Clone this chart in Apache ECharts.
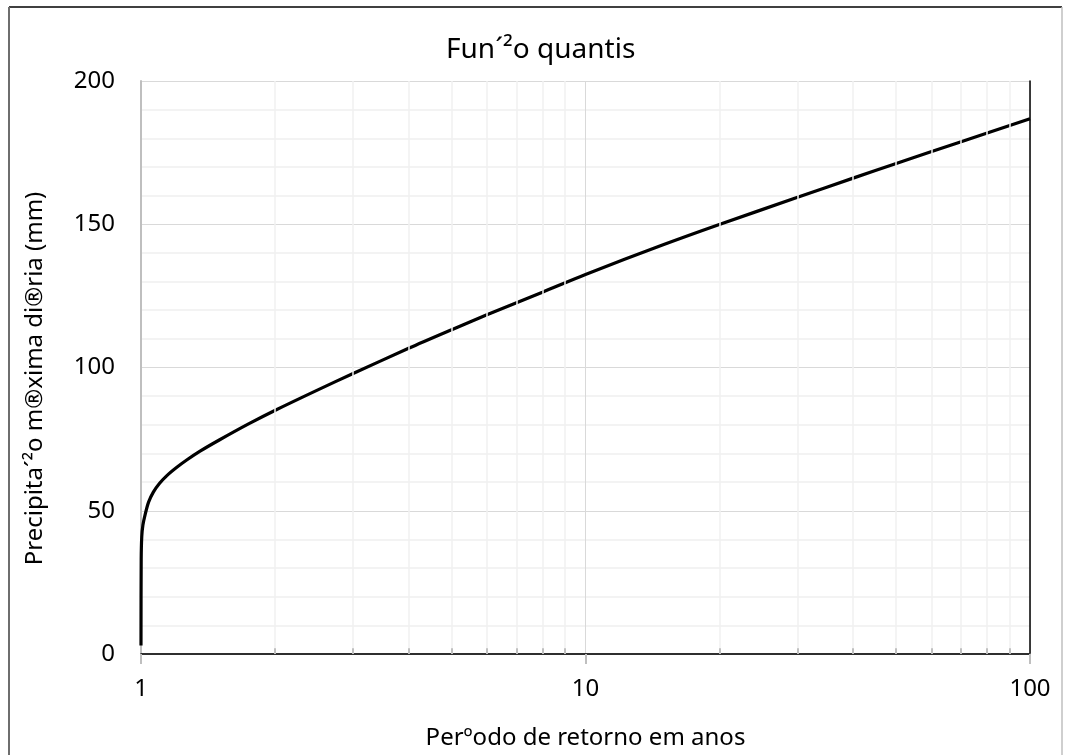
<!DOCTYPE html>
<html>
<head>
<meta charset="utf-8">
<script src="https://cdn.jsdelivr.net/npm/echarts@6/dist/echarts.min.js"></script>
<style>
  html, body { margin: 0; padding: 0; background: #ffffff; }
  #chart { width: 1066px; height: 755px; }
</style>
</head>
<body>
<div id="chart"></div>
<script>
// Return period (years) and the matching daily maximum rainfall quantile (mm)
const periods  = [1.0000001, 1.001, 1.004, 1.01, 1.021, 1.04, 1.066, 1.1, 1.142, 1.2, 1.267, 1.358,
                  1.5, 1.75, 2, 2.5, 3, 4, 5, 6, 8, 10, 15, 20, 30, 40, 50, 70, 100];
const rainfall = [3, 33, 41, 45, 48.5, 53, 56.5, 59.5, 62.2, 65, 67.7, 70.8,
                  74.7, 80.4, 85, 92.2, 97.9, 106.7, 113.2, 118.4, 126.3, 132.5, 142.9, 149.9,
                  159.4, 166.1, 171.2, 178.8, 186.8];

// Logarithmic sub-divisions of the return-period axis
const xMinorTicks = [2, 3, 4, 5, 6, 7, 8, 9, 20, 30, 40, 50, 60, 70, 80, 90];

const chartTitle = 'Fun´²o quantis';
const xName = 'Perºodo de retorno em anos';
const yName = 'Precipita´²o m®xima di®ria (mm)';

const FONT = 'Noto Sans';
const chart = echarts.init(document.getElementById('chart'), null, { renderer: 'canvas' });

const curve = periods.map((t, i) => [t, rainfall[i]]);

chart.setOption({
  backgroundColor: '#ffffff',
  animation: false,
  title: {
    text: chartTitle,
    left: 441,
    top: 31,
    textStyle: { fontFamily: FONT, fontSize: 28, fontWeight: 'normal', color: '#000000' }
  },
  grid: { left: 141, right: 36, top: 81, bottom: 97 },
  xAxis: [{
    type: 'log',
    logBase: 10,
    min: 1,
    max: 100,
    name: xName,
    nameLocation: 'middle',
    nameGap: 72,
    nameTextStyle: { fontFamily: FONT, fontSize: 24, color: '#000000' },
    axisLine: { show: true, lineStyle: { color: '#bfbfbf', width: 2 } },
    axisTick: { show: true, inside: false, length: 10, lineStyle: { color: '#bfbfbf', width: 2 } },
    axisLabel: { fontFamily: FONT, fontSize: 24, color: '#000000', margin: 23 },
    splitLine: { show: true, lineStyle: { color: '#d9d9d9', width: 1 } }
  }, {
    type: 'log',
    logBase: 10,
    min: 1,
    max: 100,
    position: 'top',
    axisLine: { show: true, lineStyle: { color: '#000000', width: 1.5 } },
    axisTick: { show: false },
    axisLabel: { show: false },
    splitLine: { show: false }
  }],
  yAxis: [{
    type: 'value',
    min: 0,
    max: 200,
    interval: 50,
    name: yName,
    nameLocation: 'middle',
    nameGap: 94,
    nameTextStyle: { fontFamily: FONT, fontSize: 24, color: '#000000', padding: [0, 22, 0, 0] },
    axisLine: { show: true, lineStyle: { color: '#bfbfbf', width: 2 } },
    axisTick: { show: false },
    axisLabel: { fontFamily: FONT, fontSize: 24, color: '#000000', margin: 26 },
    splitLine: { show: true, lineStyle: { color: '#d9d9d9', width: 1 } },
    minorTick: { show: false, splitNumber: 5 },
    minorSplitLine: { show: true, lineStyle: { color: '#f0f0f0', width: 1.5 } }
  }, {
    type: 'value',
    min: 0,
    max: 200,
    interval: 50,
    position: 'right',
    axisLine: { show: true, lineStyle: { color: '#000000', width: 1.5 } },
    axisTick: { show: false },
    axisLabel: { show: false },
    splitLine: { show: false }
  }],
  graphic: [
    // outer chart frame
    { type: 'line', shape: { x1: 9, y1: 7, x2: 1062, y2: 7 }, style: { stroke: '#000000', lineWidth: 1.5 }, silent: true },
    { type: 'line', shape: { x1: 9, y1: 7, x2: 9, y2: 760 }, style: { stroke: '#6e6e6e', lineWidth: 2 }, silent: true },
    { type: 'line', shape: { x1: 1062, y1: 7, x2: 1062, y2: 760 }, style: { stroke: '#bfbfbf', lineWidth: 1.5 }, silent: true }
  ],
  series: [{
    // minor vertical grid lines and inner minor ticks of the log axis
    type: 'line',
    data: [],
    z: 1,
    silent: true,
    markLine: {
      silent: true,
      symbol: 'none',
      label: { show: false },
      animation: false,
      data: xMinorTicks.map(v => ({ xAxis: v, lineStyle: { color: '#f0f0f0', width: 1.5, type: 'solid' } }))
        .concat(xMinorTicks.map(v => [
          { coord: [v, 0], lineStyle: { color: '#bfbfbf', width: 2, type: 'solid' } },
          { coord: [v, 2] }
        ]))
    }
  }, {
    type: 'line',
    data: curve,
    z: 3,
    showSymbol: false,
    smooth: 0.3,
    lineStyle: { color: '#000000', width: 3.2 }
  }]
});
</script>
</body>
</html>
